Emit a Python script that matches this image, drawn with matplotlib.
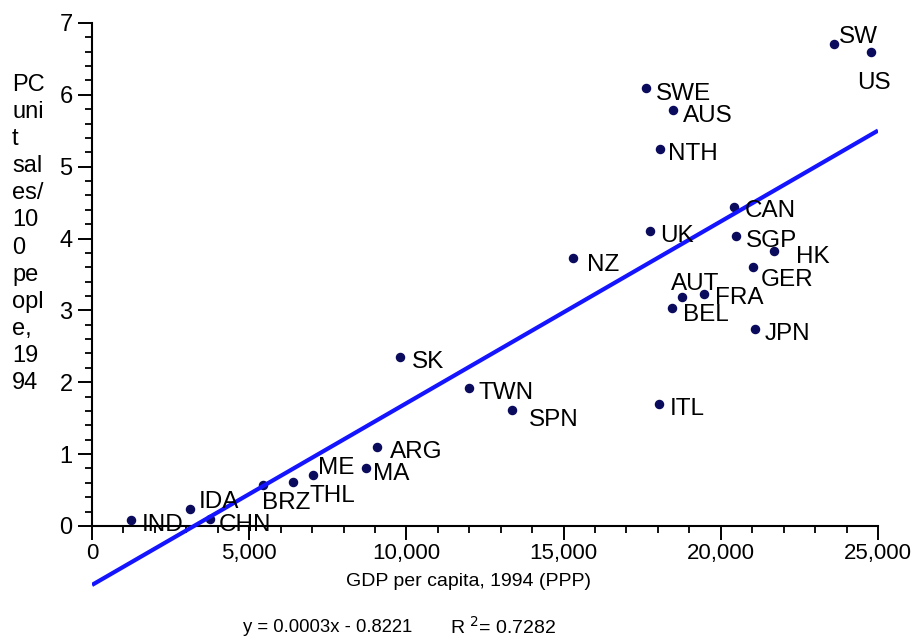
import matplotlib.pyplot as plt
from matplotlib.ticker import MultipleLocator, FixedLocator, StrMethodFormatter

plt.rcParams['font.family'] = ['Liberation Sans', 'DejaVu Sans']

# data
countries = ['IND', 'IDA', 'CHN', 'BRZ', 'THL', 'ME', 'MA', 'ARG', 'SK', 'TWN',
             'SPN', 'NZ', 'ITL', 'UK', 'CAN', 'SGP', 'HK', 'GER', 'AUT', 'FRA',
             'BEL', 'JPN', 'SWE', 'AUS', 'NTH', 'SW', 'US']
gdp = [1240, 3120, 3750, 5440, 6390, 7030, 8720, 9070, 9800, 11990,
       13360, 15300, 18030, 17750, 20420, 20480, 21690, 21020, 18770, 19470,
       18450, 21090, 17620, 18480, 18070, 23600, 24780]
pc_sales = [0.08, 0.24, 0.10, 0.57, 0.61, 0.71, 0.81, 1.10, 2.35, 1.92,
            1.61, 3.73, 1.70, 4.10, 4.44, 4.04, 3.83, 3.60, 3.19, 3.23,
            3.03, 2.74, 6.10, 5.79, 5.25, 6.71, 6.60]

trend_slope = 0.000253
trend_intercept = -0.8221
trend_x = [0, 25000]

# label offsets in pixels (right, down)
offsets = {'IND': (11, 5), 'IDA': (9, -7), 'CHN': (9, 6), 'BRZ': (-1, 18),
           'THL': (17, 14), 'ME': (5, -7), 'MA': (7, 6), 'ARG': (13, 5),
           'SK': (12, 5), 'TWN': (10, 5), 'SPN': (17, 10), 'NZ': (14, 7),
           'ITL': (11, 5), 'UK': (10, 5), 'CAN': (11, 4), 'SGP': (10, 5),
           'HK': (22, 6), 'GER': (8, 13), 'AUT': (-11, -13), 'FRA': (11, 4),
           'BEL': (11, 7), 'JPN': (10, 5), 'SWE': (10, 6), 'AUS': (10, 6),
           'NTH': (8, 5), 'SW': (5, -7), 'US': (-14, 31)}

fig = plt.figure(figsize=(9.14, 6.38), dpi=100)
ax = fig.add_axes([92 / 914, 1 - 592 / 638, 786 / 914, 569 / 638])

ax.scatter(gdp, pc_sales, s=34, color='#0b0b5e', zorder=2)
trend_y = [trend_slope * x + trend_intercept for x in trend_x]
ax.plot(trend_x, trend_y, color='#1414ff', lw=3, zorder=3, solid_capstyle='butt')

for name, x, y in zip(countries, gdp, pc_sales):
    dx, dy = offsets[name]
    ax.annotate(name, (x, y), xytext=(dx * 0.72, -dy * 0.72),
                textcoords='offset points', ha='left', va='center',
                fontsize=17.5, zorder=4)

ax.set_xlim(0, 25000)
ax.set_ylim(-0.92, 7)
ax.spines['top'].set_visible(False)
ax.spines['right'].set_visible(False)
ax.spines['bottom'].set_position(('data', 0))
ax.spines['left'].set_bounds(0, 7)
for s in ['left', 'bottom']:
    ax.spines[s].set_linewidth(1.5)

ax.xaxis.set_major_locator(MultipleLocator(5000))
ax.xaxis.set_minor_locator(MultipleLocator(1000))
ax.xaxis.set_major_formatter(StrMethodFormatter('{x:,.0f}'))
ax.set_yticks(range(0, 8))
ax.yaxis.set_minor_locator(FixedLocator([i / 5 for i in range(1, 35) if i % 5]))
ax.tick_params(axis='both', which='major', length=10, width=1.4)
ax.tick_params(axis='both', which='minor', length=5, width=1.3)
ax.tick_params(axis='y', which='major', labelsize=17, pad=4)
ax.tick_params(axis='x', which='major', labelsize=16, pad=2)

fig.text(12 / 914, 1 - 74 / 638,
         'PC\nuni\nt\nsal\nes/\n10\n0\npe\nopl\ne,\n19\n94',
         ha='left', va='top', fontsize=17, linespacing=1.3)
fig.text(468 / 914, 1 - 581 / 638, 'GDP per capita, 1994 (PPP)',
         ha='center', va='center', fontsize=14)
fig.text(243 / 914, 1 - 627 / 638, 'y = 0.0003x - 0.8221',
         ha='left', va='center', fontsize=13.3)
fig.text(450 / 914, 1 - 627 / 638, r'R $^{2}$= 0.7282',
         ha='left', va='center', fontsize=14)

fig.savefig('out.png', dpi=100)
